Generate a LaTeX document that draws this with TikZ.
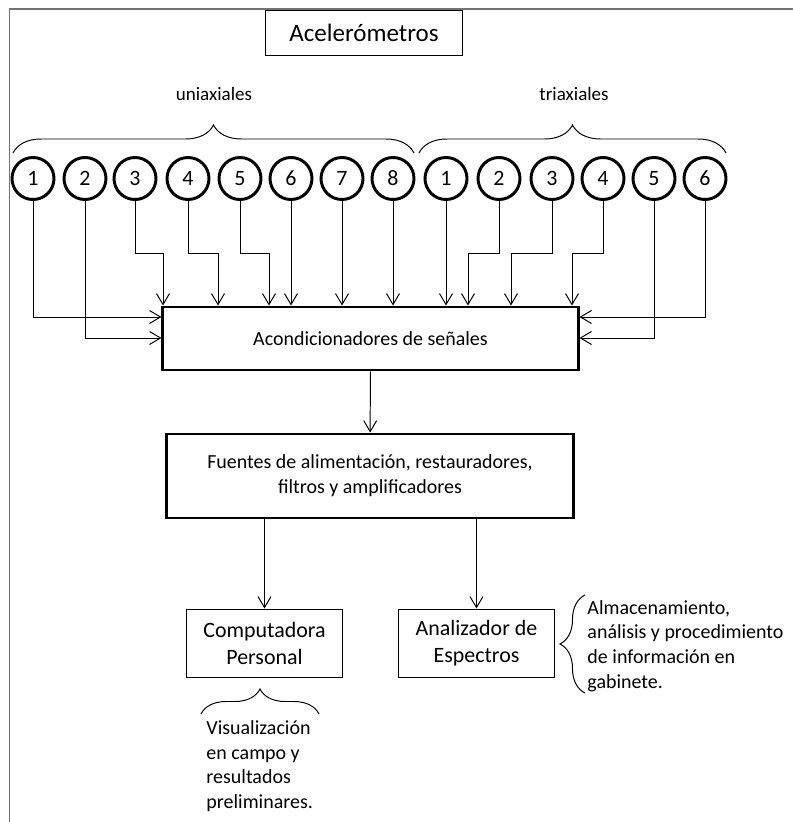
\documentclass[tikz,border=0pt]{standalone}
\usepackage{fontspec}
\setmainfont{Carlito}
\usetikzlibrary{arrows.meta,decorations.pathreplacing}

\begin{document}
\begin{tikzpicture}[
    x = 0.025cm, y = -0.025cm,
    line width = 0.7pt,
    > = {Straight Barb[length = 2.75mm, width = 3.25mm]},
    sensor/.style = {circle,
      draw,
      line width = 2.1pt,
      minimum size = 1.05cm,
      inner sep = 0pt,
      font = \fontsize{15.6}{18}\selectfont},
    stage/.style = {rectangle,
      draw,
      line width = 2.1pt,
      align = center,
      font = \fontsize{14.2}{17.8}\selectfont},
    device/.style = {rectangle,
      draw,
      minimum width = 3.875cm,
      minimum height = 1.7cm,
      align = center,
      font = \fontsize{15.6}{19.2}\selectfont},
    note/.style = {inner sep = 0pt,
      align = left,
      font = \fontsize{14.2}{17.5}\selectfont},
    group/.style = {decorate,
      decoration = {brace, amplitude = 0.7cm}}
    ]

    \useasboundingbox (0, 0) rectangle (793, 822);
    \draw [black!55, line width = 1pt] (793, 9) -- (9.5, 9) -- (9.5, 822);

    \node at (364, 32.5) [rectangle, draw, minimum width = 4.9cm,
      minimum height = 1.125cm, font = \fontsize{17.8}{20}\selectfont,
      name = acc] {Acelerómetros};

    \node at (214, 94) [font = \fontsize{13.5}{16}\selectfont, name = uni] {uniaxiales};
    \node at (574, 94) [font = \fontsize{13.5}{16}\selectfont, name = tri] {triaxiales};

    \draw [group] (13, 153) -- (414, 153);
    \draw [group] (419, 153) -- (726, 153);

    \node at (33, 178.5) [sensor, name = u1] {1};
    \node at (85, 178.5) [sensor, name = u2] {2};
    \node at (135, 178.5) [sensor, name = u3] {3};
    \node at (188, 178.5) [sensor, name = u4] {4};
    \node at (240, 178.5) [sensor, name = u5] {5};
    \node at (291, 178.5) [sensor, name = u6] {6};
    \node at (342, 178.5) [sensor, name = u7] {7};
    \node at (393, 178.5) [sensor, name = u8] {8};
    \node at (446, 178.5) [sensor, name = t1] {1};
    \node at (499, 178.5) [sensor, name = t2] {2};
    \node at (552, 178.5) [sensor, name = t3] {3};
    \node at (603, 178.5) [sensor, name = t4] {4};
    \node at (654, 178.5) [sensor, name = t5] {5};
    \node at (705, 178.5) [sensor, name = t6] {6};

    \node at (370.5, 338.5) [stage, minimum width = 10.375cm,
      minimum height = 1.575cm, name = acond] {Acondicionadores de señales};
    \node at (370, 476) [stage, minimum width = 10.15cm,
      minimum height = 2.1cm, name = fuentes]
      {Fuentes de alimentación, restauradores,\\ filtros y amplificadores};

    \node at (264.5, 643) [device, name = pc] {Computadora\\ Personal};
    \node at (476.5, 643) [device, name = spec] {Analizador de\\ Espectros};

    \node at (206, 766) [note, anchor = west, name = campo]
      {Visualización\\ en campo y\\ resultados\\ preliminares.};
    \node at (587, 646) [note, anchor = west, name = gabinete]
      {Almacenamiento,\\ análisis y procedimiento\\ de información en\\ gabinete.};

    \draw [group, decoration = {amplitude = 0.625cm}] (201, 714) -- (319, 714);
    \draw [group, decoration = {amplitude = 0.625cm}] (585, 693) -- (585, 595);

    \draw [->] (u1) |- (acond.west |- 0, 317);
    \draw [->] (u2) |- (acond.west |- 0, 338);
    \draw [->] (u3) |- (163, 253) -- (163, 0 |- acond.north);
    \draw [->] (u4) |- (218, 253) -- (218, 0 |- acond.north);
    \draw [->] (u5) |- (269, 253) -- (269, 0 |- acond.north);
    \draw [->] (u6) -- (u6 |- acond.north);
    \draw [->] (u7) -- (u7 |- acond.north);
    \draw [->] (u8) -- (u8 |- acond.north);
    \draw [->] (t1) -- (t1 |- acond.north);
    \draw [->] (t2) |- (468, 253) -- (468, 0 |- acond.north);
    \draw [->] (t3) |- (511, 253) -- (511, 0 |- acond.north);
    \draw [->] (t4) |- (572, 253) -- (572, 0 |- acond.north);
    \draw [->] (t5) |- (acond.east |- 0, 338);
    \draw [->] (t6) |- (acond.east |- 0, 317);

    \draw [->] (acond) -- (fuentes);
    \draw [->] (fuentes.south -| pc) -- (pc);
    \draw [->] (fuentes.south -| spec) -- (spec);
  \end{tikzpicture}
\end{document}
